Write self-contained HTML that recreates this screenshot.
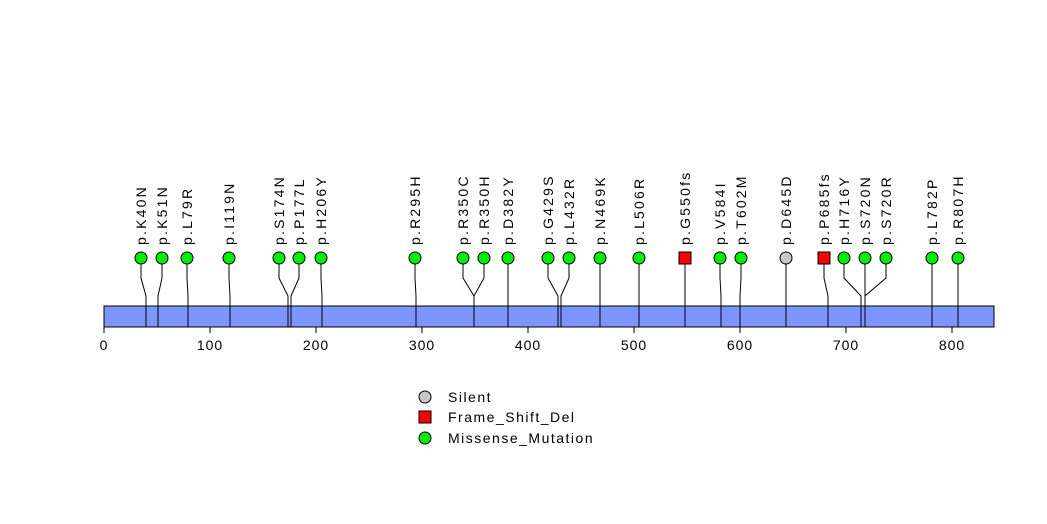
<!DOCTYPE html>
<html><head><meta charset="utf-8"><style>body{margin:0;background:#fff}svg{display:block}</style></head>
<body>
<svg width="1047" height="524" xmlns="http://www.w3.org/2000/svg" font-family="Liberation Sans, sans-serif">
<rect x="0" y="0" width="1047" height="524" fill="#fff"/>
<rect x="104" y="306" width="890" height="21" fill="#7b96ff" stroke="#000" stroke-width="1"/>
<g stroke="#000" stroke-width="1" fill="none">
<path d="M104 327H952"/>
<path d="M104 327v6M210 327v6M316 327v6M422 327v6M528 327v6M634 327v6M740 327v6M846 327v6M952 327v6"/>
<path d="M141 264V278L146 296V327"/>
<path d="M162 264V278L158 296V327"/>
<path d="M187 264V278L188 296V327"/>
<path d="M229 264V278L230 296V327"/>
<path d="M279 264V278L288 296V327"/>
<path d="M299 264V278L291 296V327"/>
<path d="M321 264V278L322 296V327"/>
<path d="M415 264V278L416 296V327"/>
<path d="M463 264V278L474 296V327"/>
<path d="M484 264V278L474 296V327"/>
<path d="M508 264V278L508 296V327"/>
<path d="M548 264V278L558 296V327"/>
<path d="M569 264V278L561 296V327"/>
<path d="M600 264V278L600 296V327"/>
<path d="M639 264V278L639 296V327"/>
<path d="M685 264V278L685 296V327"/>
<path d="M720 264V278L721 296V327"/>
<path d="M741 264V278L740 296V327"/>
<path d="M786 264V278L786 296V327"/>
<path d="M824 264V278L828 296V327"/>
<path d="M844 264V278L861 296V327"/>
<path d="M865 264V278L865 296V327"/>
<path d="M886 264V278L865 296V327"/>
<path d="M932 264V278L932 296V327"/>
<path d="M958 264V278L958 296V327"/>
</g>
<g stroke="#000" stroke-width="1" fill="#00ee00">
<circle cx="141" cy="258" r="6"/><circle cx="162" cy="258" r="6"/><circle cx="187" cy="258" r="6"/>
<circle cx="229" cy="258" r="6"/><circle cx="279" cy="258" r="6"/><circle cx="299" cy="258" r="6"/>
<circle cx="321" cy="258" r="6"/><circle cx="415" cy="258" r="6"/><circle cx="463" cy="258" r="6"/>
<circle cx="484" cy="258" r="6"/><circle cx="508" cy="258" r="6"/><circle cx="548" cy="258" r="6"/>
<circle cx="569" cy="258" r="6"/><circle cx="600" cy="258" r="6"/><circle cx="639" cy="258" r="6"/>
<circle cx="720" cy="258" r="6"/><circle cx="741" cy="258" r="6"/>
<circle cx="844" cy="258" r="6"/><circle cx="865" cy="258" r="6"/><circle cx="886" cy="258" r="6"/>
<circle cx="932" cy="258" r="6"/><circle cx="958" cy="258" r="6"/>
<circle cx="786" cy="258" r="6" fill="#c8c8c8"/>
<rect x="679" y="252" width="12" height="12" fill="#ff0000"/>
<rect x="818" y="252" width="12" height="12" fill="#ff0000"/>
</g>
<g font-size="14" fill="#000" letter-spacing="2.2">
<text transform="translate(146,245) rotate(-90)">p.K40N</text>
<text transform="translate(167,245) rotate(-90)">p.K51N</text>
<text transform="translate(192,245) rotate(-90)">p.L79R</text>
<text transform="translate(234,245) rotate(-90)">p.I119N</text>
<text transform="translate(284,245) rotate(-90)">p.S174N</text>
<text transform="translate(304,245) rotate(-90)">p.P177L</text>
<text transform="translate(326,245) rotate(-90)">p.H206Y</text>
<text transform="translate(420,245) rotate(-90)">p.R295H</text>
<text transform="translate(468,245) rotate(-90)">p.R350C</text>
<text transform="translate(489,245) rotate(-90)">p.R350H</text>
<text transform="translate(513,245) rotate(-90)">p.D382Y</text>
<text transform="translate(553,245) rotate(-90)">p.G429S</text>
<text transform="translate(574,245) rotate(-90)">p.L432R</text>
<text transform="translate(605,245) rotate(-90)">p.N469K</text>
<text transform="translate(644,245) rotate(-90)">p.L506R</text>
<text transform="translate(690,245) rotate(-90)">p.G550fs</text>
<text transform="translate(725,245) rotate(-90)">p.V584I</text>
<text transform="translate(746,245) rotate(-90)">p.T602M</text>
<text transform="translate(791,245) rotate(-90)">p.D645D</text>
<text transform="translate(829,245) rotate(-90)">p.P685fs</text>
<text transform="translate(849,245) rotate(-90)">p.H716Y</text>
<text transform="translate(870,245) rotate(-90)">p.S720N</text>
<text transform="translate(891,245) rotate(-90)">p.S720R</text>
<text transform="translate(937,245) rotate(-90)">p.L782P</text>
<text transform="translate(963,245) rotate(-90)">p.R807H</text>
</g>
<g font-size="14" fill="#000" text-anchor="middle" letter-spacing="1">
<text x="104" y="350">0</text><text x="210" y="350">100</text><text x="316" y="350">200</text>
<text x="422" y="350">300</text><text x="528" y="350">400</text><text x="634" y="350">500</text>
<text x="740" y="350">600</text><text x="846" y="350">700</text><text x="952" y="350">800</text>
</g>
<g stroke="#000" stroke-width="1">
<circle cx="425" cy="397" r="6" fill="#c8c8c8"/>
<rect x="419" y="411" width="12" height="12" fill="#ff0000"/>
<circle cx="425" cy="438" r="6" fill="#00ee00"/>
</g>
<g font-size="14" fill="#000" letter-spacing="1.5">
<text x="448" y="402">Silent</text>
<text x="448" y="422">Frame_Shift_Del</text>
<text x="448" y="443">Missense_Mutation</text>
</g>
</svg>
</body></html>
